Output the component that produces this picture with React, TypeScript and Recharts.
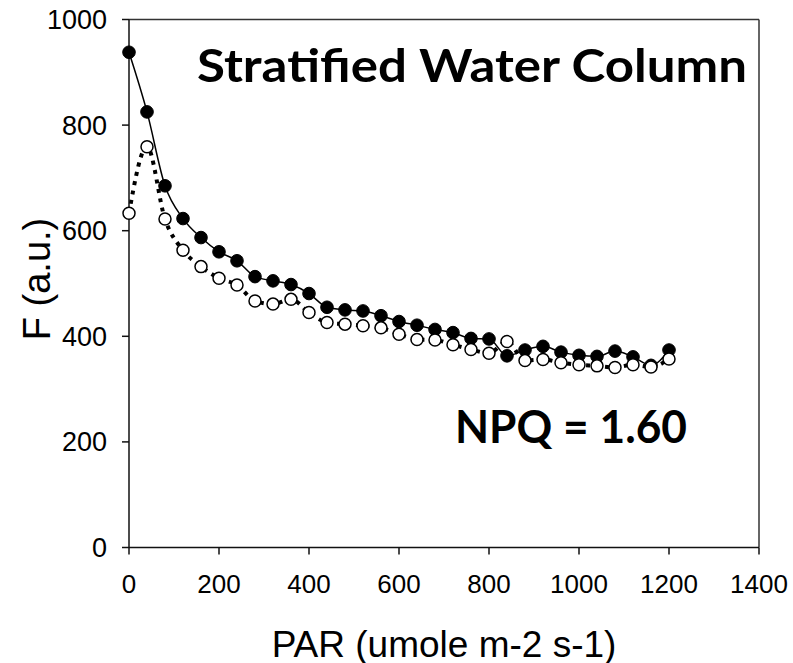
import { LineChart, Line, XAxis, YAxis, ReferenceLine, Label } from 'recharts'

const par = [
  0, 40, 80, 120, 160, 200, 240, 280, 320, 360, 400, 440, 480, 520, 560, 600,
  640, 680, 720, 760, 800, 840, 880, 920, 960, 1000, 1040, 1080, 1120, 1160, 1200,
]
// filled circles, solid line
const fDark = [
  938, 825, 685, 623, 587, 560, 543, 513, 505, 498, 481, 455, 450, 448, 439, 428,
  421, 413, 407, 396, 395, 363, 374, 381, 370, 364, 362, 372, 361, 345, 374,
]
// open circles, dotted line
const fLight = [
  633, 759, 622, 563, 532, 510, 497, 467, 461, 470, 445, 426, 423, 420, 416, 404,
  394, 393, 384, 375, 368, 390, 354, 356, 350, 346, 344, 341, 346, 342, 357,
]
const xTicks = [0, 200, 400, 600, 800, 1000, 1200, 1400]
const yTicks = [0, 200, 400, 600, 800, 1000]

const data = par.map((p, i) => ({ par: p, dark: fDark[i], light: fLight[i] }))

const sans = '"Liberation Sans", Arial, sans-serif'
const bold = 'Lato, "Open Sans", sans-serif'

export default function App() {
  return (
    <div style={{ position: 'absolute', left: 0, top: 0, width: 793, height: 663, background: '#fff' }}>
      <LineChart
        width={793}
        height={663}
        data={data}
        margin={{ top: 19.5, right: 34, bottom: 0.5, left: 0 }}
      >
        <XAxis
          dataKey="par"
          type="number"
          domain={[0, 1400]}
          ticks={xTicks}
          height={115}
          tickSize={7}
          tickMargin={20}
          axisLine={{ stroke: '#111', strokeWidth: 1.5 }}
          tickLine={{ stroke: '#111', strokeWidth: 1.5 }}
          tick={{ fill: '#000', fontSize: 26, fontFamily: sans }}
          interval={0}
        >
          <Label
            value="PAR (umole m-2 s-1)"
            position="insideBottom"
            offset={6}
            style={{ fill: '#000', fontSize: 37, fontFamily: sans }}
          />
        </XAxis>
        <YAxis
          type="number"
          domain={[0, 1000]}
          ticks={yTicks}
          width={129}
          tickSize={7}
          tickMargin={15}
          axisLine={{ stroke: '#111', strokeWidth: 1.5 }}
          tickLine={{ stroke: '#111', strokeWidth: 1.5 }}
          tick={{ fill: '#000', fontSize: 27, fontFamily: sans }}
          interval={0}
        />
        <ReferenceLine y={1000} stroke="#333" strokeWidth={1.5} />
        <ReferenceLine x={1400} stroke="#333" strokeWidth={1.5} />
        <Line
          dataKey="dark"
          type="monotone"
          stroke="#000"
          strokeWidth={1.5}
          dot={{ r: 6.3, fill: '#000', stroke: '#000', strokeWidth: 1 }}
          isAnimationActive={false}
        />
        <Line
          dataKey="light"
          type="monotone"
          stroke="#000"
          strokeWidth={4}
          strokeDasharray="4 5.5"
          dot={{ r: 6, fill: '#fff', stroke: '#000', strokeWidth: 1.5, strokeDasharray: '0' }}
          isAnimationActive={false}
        />
        <text
          x={37}
          y={279}
          transform="rotate(-90, 37, 279)"
          textAnchor="middle"
          dominantBaseline="central"
          fontSize={38}
          fontFamily={sans}
          fill="#000"
        >
          F (a.u.)
        </text>
        <text
          x={197}
          y={82}
          fontSize={46}
          fontWeight={700}
          fontFamily={bold}
          fill="#000"
          textLength={550}
          lengthAdjust="spacingAndGlyphs"
        >
          Stratified Water Column
        </text>
        <text
          x={455}
          y={443}
          fontSize={45}
          fontWeight={700}
          fontFamily={bold}
          fill="#000"
          textLength={232}
          lengthAdjust="spacingAndGlyphs"
        >
          NPQ = 1.60
        </text>
      </LineChart>
    </div>
  )
}
